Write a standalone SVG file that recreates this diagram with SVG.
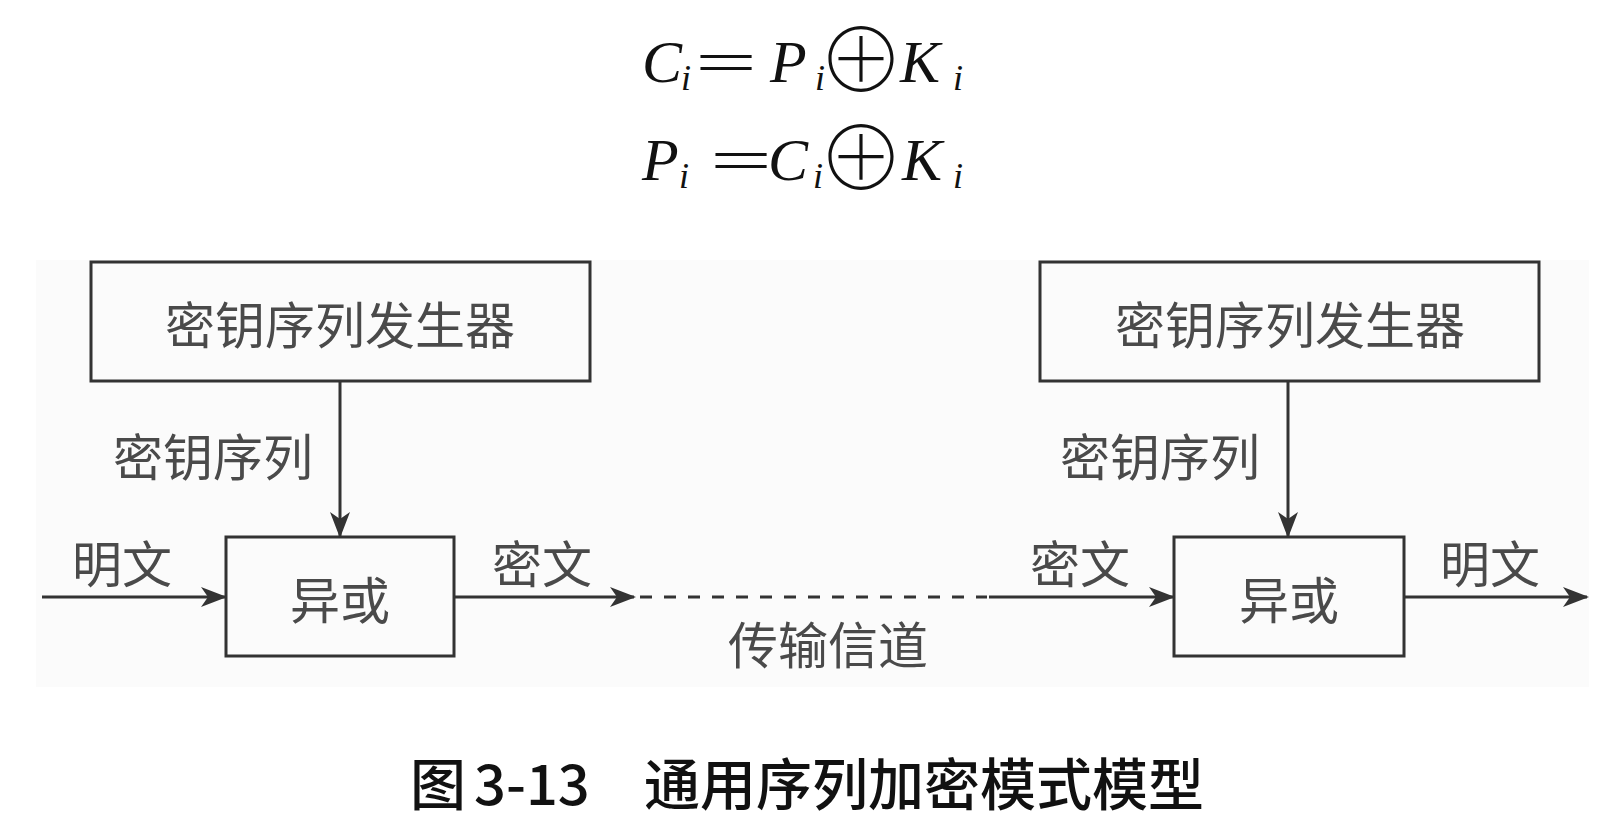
<svg xmlns="http://www.w3.org/2000/svg" width="1620" height="822" viewBox="0 0 1620 822">
<style>
.box{fill:none;stroke:#333;stroke-width:3}
.ln{stroke:#333;stroke-width:3;fill:none}
.lbl{font-family:"Noto Sans CJK SC","Noto Sans CJK JP",sans-serif;font-size:50px;fill:#4a4a4a;text-anchor:middle;dominant-baseline:central;font-weight:400}
.math{font-family:"Liberation Serif","DejaVu Serif",serif;font-style:italic;font-size:60px;fill:#111}
.sub{font-family:"Liberation Serif","DejaVu Serif",serif;font-style:italic;font-size:36px;fill:#111}
.op{font-family:"Liberation Serif","DejaVu Serif",serif;font-size:60px;fill:#111}
.xor{font-family:"Noto Sans CJK SC","Noto Sans CJK JP",sans-serif;font-size:88px;font-weight:100;fill:#111;text-anchor:middle}
.cap{font-family:"Noto Sans CJK SC","Noto Sans CJK JP",sans-serif;font-size:56px;fill:#111;font-weight:500}
</style>
<defs>
<marker id="arr" markerWidth="26" markerHeight="20" refX="24" refY="10" orient="auto" markerUnits="userSpaceOnUse">
<path d="M0,0 L26,10 L0,20 L7,10 z" fill="#333"/>
</marker>
</defs>
<rect x="0" y="0" width="1620" height="822" fill="#fff"/>
<rect x="36" y="260" width="1553" height="427" fill="#fbfbfb"/>

<g id="formulas">
<text class="math" x="642" y="82">C</text><text class="sub" x="681" y="90">i</text>
<text class="op" x="695" y="82" textLength="62" lengthAdjust="spacingAndGlyphs">=</text>
<text class="math" x="770" y="82">P</text><text class="sub" x="815" y="90">i</text>
<text class="xor" x="861" y="92">⊕</text>
<text class="math" x="900" y="82">K</text><text class="sub" x="953" y="90">i</text>

<text class="math" x="642" y="180">P</text><text class="sub" x="679" y="188">i</text>
<text class="op" x="710" y="180" textLength="62" lengthAdjust="spacingAndGlyphs">=</text>
<text class="math" x="768" y="180">C</text><text class="sub" x="813" y="188">i</text>
<text class="xor" x="861" y="190">⊕</text>
<text class="math" x="902" y="180">K</text><text class="sub" x="953" y="188">i</text>
</g>

<g id="keygen-left">
<rect class="box" x="91" y="262" width="499" height="119"/>
<text class="lbl" x="340" y="322">密钥序列发生器</text>
</g>
<g id="xor-left">
<rect class="box" x="226" y="537" width="228" height="119"/>
<text class="lbl" x="340" y="597">异或</text>
</g>
<g id="keygen-right">
<rect class="box" x="1040" y="262" width="499" height="119"/>
<text class="lbl" x="1290" y="322">密钥序列发生器</text>
</g>
<g id="xor-right">
<rect class="box" x="1174" y="537" width="230" height="119"/>
<text class="lbl" x="1289" y="597">异或</text>
</g>

<g id="connectors">
<line class="ln" x1="340" y1="381" x2="340" y2="536" marker-end="url(#arr)"/>
<line class="ln" x1="42" y1="597" x2="225" y2="597" marker-end="url(#arr)"/>
<line class="ln" x1="454" y1="597" x2="634" y2="597" marker-end="url(#arr)"/>
<line class="ln" x1="640" y1="597" x2="987" y2="597" stroke-dasharray="12 12"/>
<line class="ln" x1="989" y1="597" x2="1173" y2="597" marker-end="url(#arr)"/>
<line class="ln" x1="1288" y1="381" x2="1288" y2="536" marker-end="url(#arr)"/>
<line class="ln" x1="1404" y1="597" x2="1587" y2="597" marker-end="url(#arr)"/>
<text class="lbl" x="213" y="454">密钥序列</text>
<text class="lbl" x="122" y="561">明文</text>
<text class="lbl" x="542" y="561">密文</text>
<text class="lbl" x="828" y="642">传输信道</text>
<text class="lbl" x="1080" y="561">密文</text>
<text class="lbl" x="1160" y="454">密钥序列</text>
<text class="lbl" x="1490" y="561">明文</text>
</g>

<g id="caption">
<text class="cap" x="410" y="805">图</text>
<text class="cap" x="474" y="805">3-13</text>
<text class="cap" x="644" y="805">通用序列加密模式模型</text>
</g>
</svg>
